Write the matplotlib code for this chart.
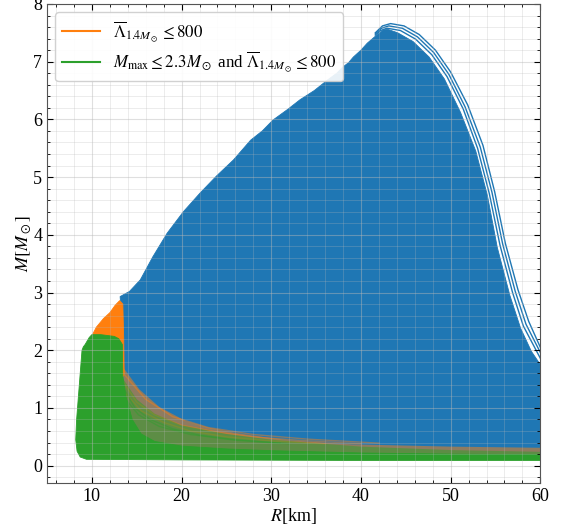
import matplotlib
matplotlib.use("Agg")
import matplotlib.pyplot as plt
from matplotlib.lines import Line2D
from matplotlib.ticker import MultipleLocator

plt.rcParams["font.family"] = ["Liberation Serif", "DejaVu Serif"]
plt.rcParams["mathtext.fontset"] = "stix"

BLUE = "#1f77b4"
ORANGE = "#ff7f0e"
GREEN = "#2ca02c"

# ---- all equations of state: outline of the covered M-R area ----
all_R = [13.15, 14.2, 15.4, 16.8, 18.4, 20.2, 22.1, 23.9, 25.8, 27.7, 29.0, 30.2,
         31.8, 33.2, 34.8, 36.25, 37.3, 38.0, 38.6, 39.15, 40.0, 40.7, 41.6, 42.5,
         43.0, 44.1, 45.8, 47.6, 49.3, 51.1, 52.8, 54.1, 55.2, 56.6, 57.8, 59.0, 60.0,
         60.0, 40.0, 20.0, 15.0, 13.6, 13.4]
all_M = [2.93, 3.02, 3.22, 3.62, 4.03, 4.40, 4.73, 5.02, 5.30, 5.64, 5.80, 5.99,
         6.17, 6.34, 6.50, 6.68, 6.80, 6.91, 6.98, 7.08, 7.20, 7.32, 7.44, 7.55,
         7.56, 7.50, 7.35, 7.08, 6.70, 6.12, 5.45, 4.68, 3.78, 2.95, 2.38, 1.98, 1.75,
         0.14, 0.14, 0.14, 0.14, 0.30, 2.40]

# outermost individual stiff curves
curve_a_R = [41.6, 42.4, 43.3, 44.8, 46.5, 48.3, 50.0, 51.9, 53.6, 54.9, 56.1, 57.5, 58.7, 60.0]
curve_a_M = [7.50, 7.62, 7.66, 7.62, 7.47, 7.20, 6.82, 6.25, 5.55, 4.75, 3.85, 3.05, 2.50, 2.05]
curve_b_R = [41.6, 42.3, 43.1, 44.6, 46.3, 48.1, 49.8, 51.6, 53.3, 54.6, 55.8, 57.2, 58.4, 60.0]
curve_b_M = [7.48, 7.58, 7.62, 7.58, 7.43, 7.16, 6.78, 6.22, 5.52, 4.74, 3.84, 3.02, 2.45, 1.96]
curve_c_R = [41.6, 42.2, 42.9, 44.4, 46.1, 47.9, 49.6, 51.4, 53.0, 54.3, 55.5, 56.9, 58.1, 60.0]
curve_c_M = [7.46, 7.54, 7.58, 7.54, 7.39, 7.12, 6.74, 6.18, 5.50, 4.72, 3.82, 3.00, 2.42, 1.86]

# ---- Lambda_1.4 <= 800 ----
lam_clump_R = [9.9, 10.5, 11.3, 12.0, 12.6, 13.1, 13.45, 13.55, 13.6, 12.0, 10.0]
lam_clump_M = [2.22, 2.40, 2.55, 2.65, 2.78, 2.86, 2.80, 2.20, 1.60, 1.00, 1.00]
lam_fan_R = [13.5, 15.3, 17.5, 20.5, 23.0, 26.0, 29.0, 32.0, 39.0, 50.0, 60.0,
             60.0, 40.0, 25.0, 18.0, 15.0, 13.5]
lam_fan_M = [1.70, 1.32, 1.02, 0.77, 0.66, 0.57, 0.50, 0.44, 0.37, 0.33, 0.31,
             0.15, 0.17, 0.22, 0.35, 0.55, 1.00]
# a few of the softer low-mass branches trailing out of the clump
lam_tail1_R = [13.5, 16.0, 19.0, 23.0, 28.0, 34.0, 42.0]
lam_tail1_M = [1.60, 1.15, 0.85, 0.66, 0.54, 0.46, 0.39]
lam_tail2_R = [13.5, 15.0, 17.0, 20.0, 24.0, 28.0, 33.0, 40.0]
lam_tail2_M = [1.45, 1.10, 0.88, 0.70, 0.58, 0.50, 0.44, 0.38]
lam_tail3_R = [13.5, 15.5, 18.0, 21.0, 25.0, 30.0, 36.0]
lam_tail3_M = [1.30, 0.95, 0.75, 0.60, 0.50, 0.43, 0.38]

# ---- M_max <= 2.3 and Lambda_1.4 <= 800 ----
both_R = [9.4, 20.0, 40.0, 60.0, 60.0, 50.0, 40.0, 30.0, 25.0, 20.0, 17.0, 15.5,
          14.5, 13.8, 13.45, 13.4, 13.0, 12.5, 11.0, 10.0, 9.7, 9.25, 9.05, 8.9,
          8.8, 8.5, 8.3, 8.2, 8.35, 8.7]
both_M = [0.11, 0.10, 0.09, 0.09, 0.19, 0.20, 0.22, 0.26, 0.29, 0.34, 0.42, 0.55,
          0.80, 1.20, 1.55, 2.10, 2.20, 2.24, 2.27, 2.27, 2.22, 2.10, 2.06, 2.00,
          1.80, 1.20, 0.80, 0.45, 0.25, 0.15]
both_fan_R = [13.5, 15.0, 17.0, 20.0, 25.0, 30.0, 40.0, 50.0, 60.0, 60.0, 13.5]
both_fan_M = [1.50, 1.15, 0.90, 0.70, 0.55, 0.45, 0.33, 0.27, 0.24, 0.15, 0.15]
both_tail1_R = [13.5, 14.8, 16.5, 19.0, 22.0, 26.0, 31.0]
both_tail1_M = [1.35, 1.00, 0.80, 0.64, 0.53, 0.45, 0.39]
both_tail2_R = [13.5, 15.2, 17.5, 21.0, 26.0, 32.0]
both_tail2_M = [1.20, 0.88, 0.68, 0.54, 0.44, 0.38]

legend_labels = [r"$\overline{\Lambda}_{1.4M_\odot}\leq 800$",
                 r"$M_{\rm max}\leq 2.3M_\odot$ and $\overline{\Lambda}_{1.4M_\odot}\leq 800$"]

fig = plt.figure(figsize=(5.70, 5.29), dpi=100)
ax = fig.add_axes([0.0825, 0.087, 0.8655, 0.9055])

ax.fill(all_R, all_M, color=BLUE, lw=0.6, ec=BLUE, zorder=1)
for cr, cm in [(curve_a_R, curve_a_M), (curve_b_R, curve_b_M), (curve_c_R, curve_c_M)]:
    ax.plot(cr, cm, color=BLUE, lw=1.0, zorder=1.2)

ax.fill(lam_fan_R, lam_fan_M, color=ORANGE, alpha=0.5, lw=0, zorder=1.3)
for cr, cm in [(lam_tail1_R, lam_tail1_M), (lam_tail2_R, lam_tail2_M),
               (lam_tail3_R, lam_tail3_M)]:
    ax.plot(cr, cm, color=ORANGE, lw=1.0, alpha=0.45, zorder=1.35)
ax.fill(both_fan_R, both_fan_M, color=GREEN, alpha=0.5, lw=0, zorder=1.4)
for cr, cm in [(both_tail1_R, both_tail1_M), (both_tail2_R, both_tail2_M)]:
    ax.plot(cr, cm, color=GREEN, lw=1.0, alpha=0.45, zorder=1.45)
ax.fill(lam_clump_R, lam_clump_M, color=ORANGE, lw=0.6, ec=ORANGE, zorder=1.5)
ax.fill(both_R, both_M, color=GREEN, lw=0.6, ec=GREEN, zorder=1.6)

ax.set_xlim(5, 60)
ax.set_ylim(-0.3, 8)
ax.xaxis.set_major_locator(MultipleLocator(10))
ax.xaxis.set_minor_locator(MultipleLocator(2))
ax.yaxis.set_major_locator(MultipleLocator(1))
ax.yaxis.set_minor_locator(MultipleLocator(0.2))
ax.tick_params(which="both", direction="in", top=True, right=True, labelsize=13)
ax.tick_params(which="major", length=4)
ax.tick_params(which="minor", length=2)

ax.set_axisbelow(False)
ax.grid(which="major", color="#b8b8b8", alpha=0.45, lw=0.8)
ax.grid(which="minor", color="#b8b8b8", alpha=0.3, lw=0.6)
for s in ax.spines.values():
    s.set_color("#555555")
    s.set_zorder(3)

ax.set_xlabel(r"$R$[km]", fontsize=13, labelpad=1)
ax.set_ylabel(r"$M[M_\odot]$", fontsize=13, labelpad=0)

handles = [Line2D([], [], color=ORANGE, lw=1.5), Line2D([], [], color=GREEN, lw=1.5)]
leg = ax.legend(handles, legend_labels, loc="upper left", fontsize=12.2,
                frameon=True, framealpha=0.9, edgecolor="#cccccc",
                borderaxespad=0.5, handlelength=2.2, labelspacing=0.35)
leg.set_zorder(4)

fig.savefig("out.png", dpi=100)
